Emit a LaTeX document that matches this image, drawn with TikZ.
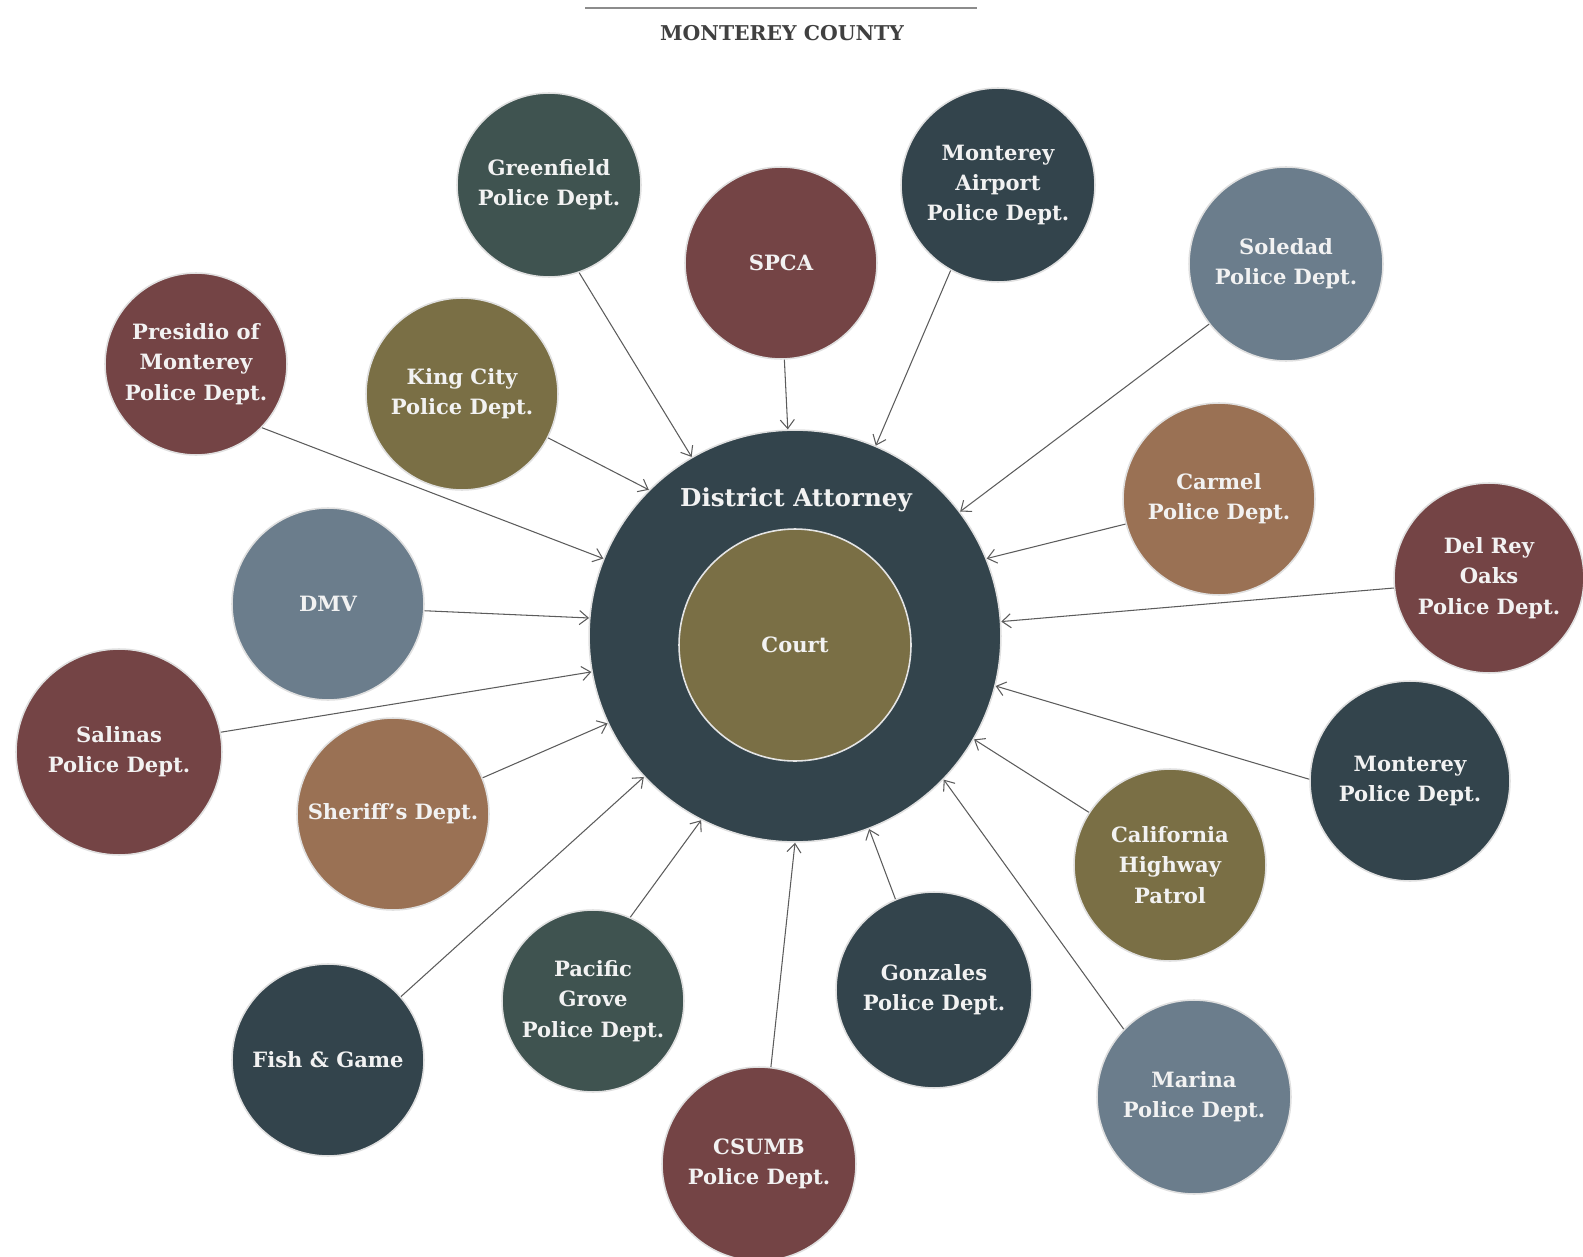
\documentclass[tikz,border=0pt]{standalone}
\usepackage{fontspec}
\setmainfont{DejaVu Serif}
\usetikzlibrary{arrows.meta}
\definecolor{cslate}{HTML}{33444C}
\definecolor{cgreen}{HTML}{3F5350}
\definecolor{cmaroon}{HTML}{744445}
\definecolor{colive}{HTML}{7A6F45}
\definecolor{cblue}{HTML}{6B7D8C}
\definecolor{cbrown}{HTML}{9A7154}
\definecolor{cline}{HTML}{5C5C5C}
\tikzset{
  agency/.style={circle, draw=black!12, line width=0.9pt, inner sep=0pt, align=center,
    text=white!95!black, font=\bfseries\fontsize{12}{17.2}\selectfont},
  feed/.style={draw=cline, line width=0.6pt, -{Straight Barb[length=5pt,width=8pt]}}
}
\begin{document}
\begin{tikzpicture}[x=0.02cm,y=-0.02cm]
\useasboundingbox (0,0) rectangle (1583,1257);
% title
\coordinate (tl) at (585,8);
\coordinate (tr) at (977,8);
\draw[draw=black!45, line width=0.8pt] (tl) -- (tr);
\node[text=black!75, font=\bfseries\fontsize{11.6}{13}\selectfont] (title) at (782,33) {MONTEREY COUNTY};
% center
\node[agency, fill=cslate, minimum size=8.24cm] (da) at (795,636) {};
\node[agency, fill=colive, minimum size=4.64cm, draw=black!10] (court) at (795,645) {Court};
\node[text=white!95!black, font=\bfseries\fontsize{14}{17}\selectfont] (datitle) at (796,500) {District Attorney};
% agencies
\node[agency, fill=cgreen,  minimum size=3.68cm] (greenfield) at (549,185) {Greenfield\\Police Dept.};
\node[agency, fill=cmaroon, minimum size=3.84cm] (spca) at (781,263) {SPCA};
\node[agency, fill=cslate,  minimum size=3.88cm] (airport) at (998,185) {Monterey\\Airport\\Police Dept.};
\node[agency, fill=cblue,   minimum size=3.88cm] (soledad) at (1286,264) {Soledad\\Police Dept.};
\node[agency, fill=cmaroon, minimum size=3.64cm] (presidio) at (196,364) {Presidio of\\Monterey\\Police Dept.};
\node[agency, fill=colive,  minimum size=3.84cm] (kingcity) at (462,394) {King City\\Police Dept.};
\node[agency, fill=cbrown,  minimum size=3.84cm] (carmel) at (1219,499) {Carmel\\Police Dept.};
\node[agency, fill=cmaroon, minimum size=3.80cm] (delrey) at (1489,578) {Del Rey\\Oaks\\Police Dept.};
\node[agency, fill=cblue,   minimum size=3.84cm] (dmv) at (328,604) {DMV};
\node[agency, fill=cmaroon, minimum size=4.12cm] (salinas) at (119,752) {Salinas\\Police Dept.};
\node[agency, fill=cbrown,  minimum size=3.84cm] (sheriff) at (393,814) {Sheriff’s Dept.};
\node[agency, fill=cslate,  minimum size=4.00cm] (montereypd) at (1410,781) {Monterey\\Police Dept.};
\node[agency, fill=colive,  minimum size=3.84cm] (chp) at (1170,865) {California\\Highway\\Patrol};
\node[agency, fill=cslate,  minimum size=3.84cm] (fishgame) at (328,1060) {Fish \& Game};
\node[agency, fill=cgreen,  minimum size=3.64cm] (pacific) at (593,1001) {Pacific\\Grove\\Police Dept.};
\node[agency, fill=cslate,  minimum size=3.92cm] (gonzales) at (934,990) {Gonzales\\Police Dept.};
\node[agency, fill=cblue,   minimum size=3.88cm] (marina) at (1194,1097) {Marina\\Police Dept.};
\node[agency, fill=cmaroon, minimum size=3.88cm] (csumb) at (759,1164) {CSUMB\\Police Dept.};
% connectors
\draw[feed] (greenfield.-71) -- (da.120.5);
\draw[feed] (spca.-88) -- (da.92);
\draw[feed] (airport.-119) -- (da.67);
\draw[feed] (soledad.-142) -- (da.37);
\draw[feed] (carmel.-165) -- (da.22);
\draw[feed] (delrey.-174.5) -- (da.4.8);
\draw[feed] (montereypd.179.4) -- (da.-14.4);
\draw[feed] (chp.147) -- (da.-30);
\draw[feed] (marina.136) -- (da.-44);
\draw[feed] (gonzales.113) -- (da.-69);
\draw[feed] (csumb.83) -- (da.-90);
\draw[feed] (pacific.66) -- (da.-117.6);
\draw[feed] (fishgame.41.6) -- (da.-137.6);
\draw[feed] (sheriff.22.4) -- (da.-155);
\draw[feed] (salinas.11) -- (da.-170);
\draw[feed] (dmv.-4) -- (da.175.8);
\draw[feed] (presidio.-44.6) -- (da.158);
\draw[feed] (kingcity.-27.6) -- (da.135);
\end{tikzpicture}
\end{document}
